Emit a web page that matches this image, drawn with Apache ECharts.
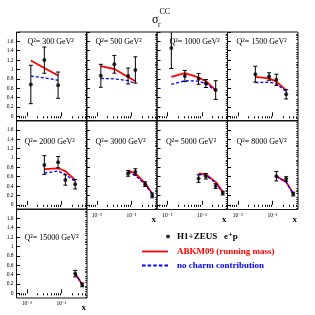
<!DOCTYPE html>
<html><head><meta charset="utf-8">
<script src="https://cdn.jsdelivr.net/npm/echarts@6/dist/echarts.min.js"></script>
<style>html,body{margin:0;padding:0;background:#fff}#c{width:315px;height:315px}</style>
</head><body><div id="c"></div>
<script>
// ---- data ----
const q2Values = ['300', '500', '1000', '1500', '2000', '3000', '5000', '8000', '15000'];
const xBins = [
  [0.013, 0.032, 0.08],
  [0.013, 0.032, 0.08, 0.13],
  [0.013, 0.032, 0.08, 0.13, 0.25],
  [0.032, 0.08, 0.13, 0.25],
  [0.032, 0.08, 0.13, 0.25],
  [0.08, 0.13, 0.25, 0.4],
  [0.08, 0.13, 0.25, 0.4],
  [0.13, 0.25, 0.4],
  [0.25, 0.4]
];
const dataY = [
  [0.68, 1.20, 0.665],
  [0.865, 1.11, 0.86, 0.99],
  [1.46, 0.86, 0.80, 0.70, 0.56],
  [0.90, 0.85, 0.78, 0.47],
  [0.85, 0.91, 0.53, 0.44],
  [0.67, 0.70, 0.44, 0.20],
  [0.56, 0.61, 0.40, 0.25],
  [0.61, 0.55, 0.23],
  [0.42, 0.18]
];
const dataErr = [
  [0.41, 0.28, 0.28],
  [0.245, 0.19, 0.17, 0.28],
  [0.44, 0.12, 0.115, 0.085, 0.2],
  [0.17, 0.08, 0.12, 0.10],
  [0.2, 0.12, 0.11, 0.1],
  [0.06, 0.07, 0.05, 0.05],
  [0.08, 0.06, 0.05, 0.04],
  [0.1, 0.05, 0.04],
  [0.07, 0.04]
];
const abkmY = [
  [1.19, 1.03, 0.87],
  [1.07, 1.01, 0.84, 0.75],
  [0.84, 0.92, 0.83, 0.75, 0.56],
  [0.84, 0.81, 0.74, 0.56],
  [0.76, 0.78, 0.72, 0.53],
  [0.73, 0.67, 0.46, 0.24],
  [0.67, 0.65, 0.49, 0.28],
  [0.61, 0.49, 0.24],
  [0.43, 0.19]
];
const noCharmY = [
  [0.86, 0.82, 0.77],
  [0.81, 0.80, 0.76, 0.70],
  [0.68, 0.76, 0.75, 0.70, 0.54],
  [0.72, 0.73, 0.69, 0.53],
  [0.68, 0.72, 0.65, 0.50],
  [0.70, 0.63, 0.43, 0.23],
  [0.65, 0.63, 0.47, 0.26],
  [0.60, 0.48, 0.23],
  [0.42, 0.18]
];
const yTickLabels = [0, 0.2, 0.4, 0.6, 0.8, 1, 1.2, 1.4, 1.6];
const yMajorTicks = [0, 0.2, 0.4, 0.6, 0.8, 1, 1.2, 1.4, 1.6, 1.8];
const yMinorTicks = [-0.08, -0.04, 0.04, 0.08, 0.12, 0.16, 0.24, 0.28, 0.32, 0.36, 0.44, 0.48, 0.52, 0.56,
  0.64, 0.68, 0.72, 0.76, 0.84, 0.88, 0.92, 0.96, 1.04, 1.08, 1.12, 1.16, 1.24, 1.28, 1.32, 1.36,
  1.44, 1.48, 1.52, 1.56, 1.64, 1.68, 1.72, 1.76];
const xTickLabels = [0.01, 0.1];
const xTickLabelText = ['10\u207B\u00B2', '10\u207B\u00B9'];
const xMinorTicks = [0.005, 0.006, 0.007, 0.008, 0.009, 0.02, 0.03, 0.04, 0.05, 0.06, 0.07, 0.08, 0.09,
  0.2, 0.3, 0.4, 0.5];

// ---- layout ----
const colLeft = [16.5, 86.5, 157, 227.5];
const panelW = 70.5;
const rowTop = [32, 120.5, 209];
const panelH = 89;
const qLabelDx = [11, 9, 12.5, 9, 8, 9, 9, 9, 8];
const qLabelDy = [10, 21, 29];
const SERIF = '"Liberation Serif", "DejaVu Serif", serif';
const SOLID_ICON = 'path://M0,0H26V2H0Z';
const DASH_ICON = 'path://M0,0H3.5V2H0Z M5.6,0H9.1V2H5.6Z M11.2,0H14.7V2H11.2Z M16.8,0H20.3V2H16.8Z M22.4,0H25.9V2H22.4Z';

const grids = [], xAxes = [], yAxes = [], series = [], graphics = [];

q2Values.forEach((q, i) => {
  const row = Math.floor(i / 4), col = i % 4;
  const showX = i >= 5;
  const showY = col === 0;
  grids.push({ left: colLeft[col], top: rowTop[row], width: panelW, height: panelH,
    show: true, borderColor: '#111', borderWidth: 1, backgroundColor: 'transparent',
    containLabel: false, outerBoundsMode: 'none' });
  const xBase = { type: 'log', logBase: 10, gridIndex: i, min: 0.005, max: 0.55,
    axisLine: { show: false }, splitLine: { show: false }, minorTick: { show: false } };
  xAxes.push(Object.assign({}, xBase, {
    axisTick: { show: true, inside: true, length: 4, customValues: xTickLabels, lineStyle: { color: '#000', width: 1 } },
    axisLabel: { show: showX, customValues: xTickLabels, margin: 3, fontSize: 5.5, fontFamily: SERIF, color: '#000',
      formatter: v => (v < 0.05 ? xTickLabelText[0] : xTickLabelText[1]) },
    name: showX ? 'x' : '', nameLocation: 'end', nameGap: -1,
    nameTextStyle: { fontFamily: SERIF, fontSize: 9, fontWeight: 'bold', color: '#000', align: 'right', verticalAlign: 'top', padding: [10, 0, 0, 0] }
  }));
  xAxes.push(Object.assign({}, xBase, {
    axisTick: { show: true, inside: true, length: 2, customValues: xMinorTicks, lineStyle: { color: '#000', width: 1 } },
    axisLabel: { show: false }
  }));
  const yBase = { type: 'value', gridIndex: i, min: -0.1, max: 1.8,
    axisLine: { show: false }, splitLine: { show: false } };
  yAxes.push(Object.assign({}, yBase, {
    axisTick: { show: true, inside: true, length: 3.5, customValues: yMajorTicks, lineStyle: { color: '#000', width: 1 } },
    axisLabel: { show: showY, customValues: yTickLabels, margin: 3, fontSize: 5.5, fontFamily: SERIF, color: '#000',
      formatter: v => String(Math.round(v * 10) / 10) }
  }));
  yAxes.push(Object.assign({}, yBase, {
    axisTick: { show: true, inside: true, length: 1.8, customValues: yMinorTicks, lineStyle: { color: '#000', width: 0.8 } },
    axisLabel: { show: false }
  }));

  const xi = 2 * i, yi = 2 * i;
  series.push({ type: 'line', name: 'ABKM09 (running mass)', xAxisIndex: xi, yAxisIndex: yi,
    data: xBins[i].map((x, k) => [x, abkmY[i][k]]), symbol: 'none', showSymbol: false,
    lineStyle: { color: '#ff0000', width: 1.8 }, itemStyle: { color: '#ff0000' }, z: 2, animation: false });
  series.push({ type: 'line', name: 'no charm contribution', xAxisIndex: xi, yAxisIndex: yi,
    data: xBins[i].map((x, k) => [x, noCharmY[i][k]]), symbol: 'none', showSymbol: false,
    lineStyle: { color: '#0000ff', width: 1.3, type: [3, 2] }, itemStyle: { color: '#0000ff' }, z: 2, animation: false });
  series.push({ type: 'custom', name: 'err' + i, xAxisIndex: xi, yAxisIndex: yi,
    data: xBins[i].map((x, k) => [x, dataY[i][k], dataErr[i][k]]), z: 3, animation: false, silent: true,
    renderItem: function (params, api) {
      const x = api.value(0), y = api.value(1), e = api.value(2);
      const p = api.coord([x, y]);
      const top = api.coord([x, y + e]);
      const bot = api.coord([x, y - e]);
      const cs = params.coordSys;
      const ymin = cs.y, ymax = cs.y + cs.height;
      const t = Math.max(top[1], ymin), b = Math.min(bot[1], ymax);
      const st = { stroke: '#000', lineWidth: 1 };
      const ch = [{ type: 'line', shape: { x1: p[0], y1: t, x2: p[0], y2: b }, style: st }];
      if (top[1] >= ymin) ch.push({ type: 'line', shape: { x1: p[0] - 2, y1: top[1], x2: p[0] + 2, y2: top[1] }, style: st });
      if (bot[1] <= ymax) ch.push({ type: 'line', shape: { x1: p[0] - 2, y1: bot[1], x2: p[0] + 2, y2: bot[1] }, style: st });
      return { type: 'group', children: ch };
    }
  });
  series.push({ type: 'scatter', name: 'H1+ZEUS   e\u207Ap', xAxisIndex: xi, yAxisIndex: yi,
    data: xBins[i].map((x, k) => [x, dataY[i][k]]), symbol: 'circle', symbolSize: 4,
    itemStyle: { color: '#000' }, z: 4, animation: false });

  graphics.push({ type: 'text', x: colLeft[col] + qLabelDx[i], y: rowTop[row] + qLabelDy[row],
    style: { text: 'Q\u00B2= ' + q + ' GeV\u00B2', fontFamily: SERIF, fontSize: 8, fill: '#000', verticalAlign: 'middle', align: 'left' } });
});

graphics.push({ type: 'text', x: 152, y: 20, style: { text: '\u03C3', fontFamily: SERIF, fontSize: 12, fill: '#000', verticalAlign: 'middle' } });
graphics.push({ type: 'text', x: 158, y: 25, style: { text: 'r', fontFamily: SERIF, fontSize: 7.5, fill: '#000', verticalAlign: 'middle' } });
graphics.push({ type: 'text', x: 159.5, y: 12, style: { text: 'CC', fontFamily: SERIF, fontSize: 8, fill: '#000', verticalAlign: 'middle' } });

const chart = echarts.init(document.getElementById('c'), null, { renderer: 'canvas' });
chart.setOption({
  animation: false,
  backgroundColor: '#fff',
  grid: grids,
  xAxis: xAxes,
  yAxis: yAxes,
  legend: [
    { data: [{ name: 'H1+ZEUS   e\u207Ap', icon: 'circle' }], left: 166, top: 232, padding: 0,
      itemWidth: 4, itemHeight: 4, itemGap: 0, selectedMode: false,
      textStyle: { fontFamily: SERIF, fontSize: 9, fontWeight: 'bold', color: '#000', padding: [0, 0, 0, 2] } },
    { data: [{ name: 'ABKM09 (running mass)', icon: SOLID_ICON, textStyle: { color: '#ff0000' } },
             { name: 'no charm contribution', icon: DASH_ICON, textStyle: { color: '#0000ff' } }],
      orient: 'vertical', left: 142, top: 246.5, padding: 0, itemWidth: 26, itemHeight: 1.8, itemGap: 4,
      symbolKeepAspect: false, selectedMode: false,
      textStyle: { fontFamily: SERIF, fontSize: 9, fontWeight: 'bold', lineHeight: 10, padding: [0, 0, 0, 4] } }
  ],
  graphic: graphics,
  series: series
});
</script>
</body></html>
